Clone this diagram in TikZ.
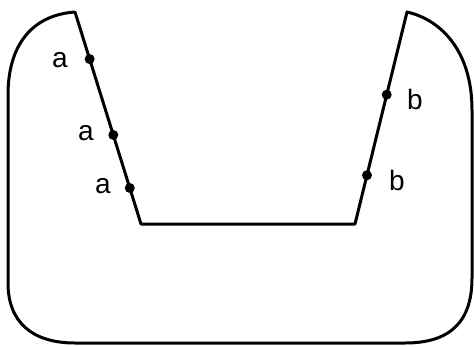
\documentclass[tikz,border=0pt]{standalone}
\usepackage{fontspec}
\setmainfont{Liberation Sans}
\usetikzlibrary{calc}
\begin{document}
\begin{tikzpicture}[x=1pt,y=-1pt,
  outline/.style={line width=3pt, line join=round, line cap=round},
  pt/.style={circle, fill=black, inner sep=0pt, minimum size=10pt},
  lbl/.style={font=\fontsize{28}{32}\selectfont, inner sep=0pt}]
\useasboundingbox (0,0) rectangle (474,346);
\coordinate (tl) at (75,12);
\coordinate (bl) at (141,224);
\coordinate (br) at (355,224);
\coordinate (tr) at (407,12);
\draw[outline] (tl) -- (bl) -- (br) -- (tr)
  .. controls (442,20) and (472,52) .. (472,110)
  -- (472,278)
  .. controls (472,322) and (450,343) .. (405,343)
  -- (75,343)
  .. controls (32,343) and (8,322) .. (8,283)
  -- (8,95)
  .. controls (8,45) and (32,15) .. (tl);
\node[pt] (a1) at ($(tl)!0.222!(bl)$) {};
\node[pt] (a2) at ($(tl)!0.58!(bl)$) {};
\node[pt] (a3) at ($(tl)!0.83!(bl)$) {};
\node[pt] (b1) at ($(tr)!0.39!(br)$) {};
\node[pt] (b2) at ($(tr)!0.77!(br)$) {};
\node[lbl] (la1) at (60,60) {a};
\node[lbl] (la2) at (86,133) {a};
\node[lbl] (la3) at (103,186) {a};
\node[lbl] (lb1) at (415,99) {b};
\node[lbl] (lb2) at (397,180) {b};
\end{tikzpicture}
\end{document}
